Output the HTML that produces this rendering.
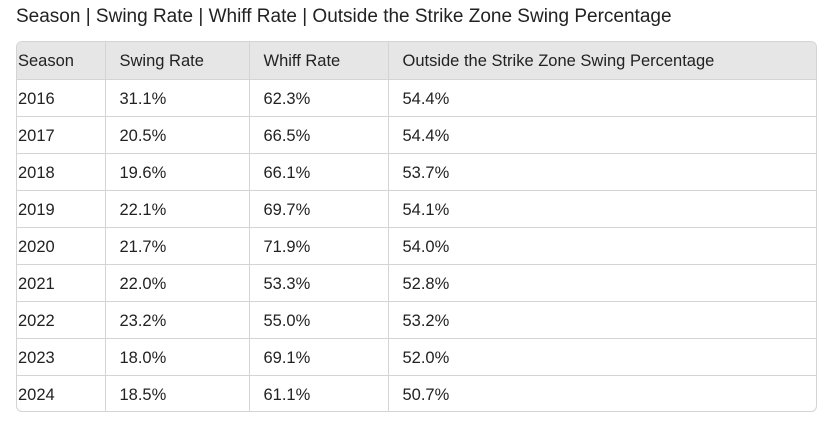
<!DOCTYPE html>
<html><head><meta charset="utf-8"><style>
body{margin:0;background:#fff;width:832px;height:423px;overflow:hidden;font-family:"Liberation Sans","Noto Sans CJK SC",sans-serif;color:#222}
.t{position:absolute;left:16px;top:6px;font-size:19px;color:#222}
.w{position:absolute;left:16px;top:41px;width:799px;height:369px;border:1px solid #d4d4d4;border-radius:6px;overflow:hidden}
table{border-collapse:collapse;width:100%;font-size:16.5px;table-layout:fixed}
td,th{height:37px;padding:3px 0 0 14px;text-align:left;font-weight:normal;border-right:1px solid #d4d4d4;border-bottom:1px solid #d4d4d4;box-sizing:border-box;white-space:nowrap}
td:first-child,th:first-child{padding-left:1px}
td:last-child,th:last-child{border-right:none}
tr:last-child td{border-bottom:none}
th{background:#e6e6e6}
</style></head><body>
<div class="t">Season | Swing Rate | Whiff Rate | Outside the Strike Zone Swing Percentage</div>
<div class="w"><table>
<colgroup><col style="width:88px"><col style="width:144px"><col style="width:139px"><col></colgroup>
<tr><th>Season</th><th>Swing Rate</th><th>Whiff Rate</th><th>Outside the Strike Zone Swing Percentage</th></tr>
<tr><td>2016</td><td>31.1%</td><td>62.3%</td><td>54.4%</td></tr>
<tr><td>2017</td><td>20.5%</td><td>66.5%</td><td>54.4%</td></tr>
<tr><td>2018</td><td>19.6%</td><td>66.1%</td><td>53.7%</td></tr>
<tr><td>2019</td><td>22.1%</td><td>69.7%</td><td>54.1%</td></tr>
<tr><td>2020</td><td>21.7%</td><td>71.9%</td><td>54.0%</td></tr>
<tr><td>2021</td><td>22.0%</td><td>53.3%</td><td>52.8%</td></tr>
<tr><td>2022</td><td>23.2%</td><td>55.0%</td><td>53.2%</td></tr>
<tr><td>2023</td><td>18.0%</td><td>69.1%</td><td>52.0%</td></tr>
<tr><td>2024</td><td>18.5%</td><td>61.1%</td><td>50.7%</td></tr>
</table></div>
</body></html>
